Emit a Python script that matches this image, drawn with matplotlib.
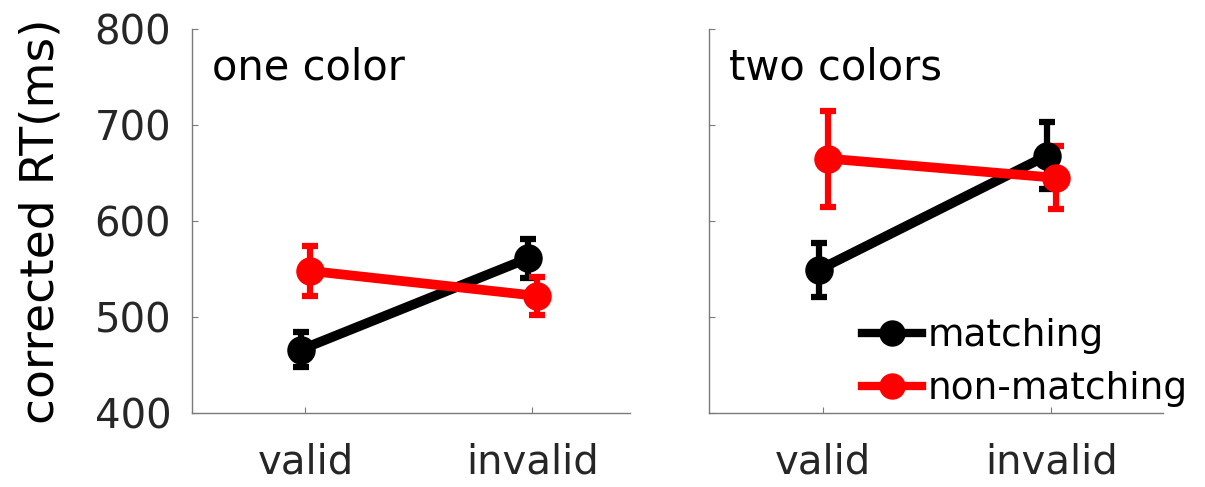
import matplotlib.pyplot as plt
from matplotlib.lines import Line2D

plt.rcParams['font.family'] = ['DejaVu Sans']

conditions = ["valid", "invalid"]
panels = ["one color", "two colors"]
series = ["matching", "non-matching"]

# mean RT and error per panel
one_matching = [466, 561]
one_matching_err = [18, 20]
one_nonmatching = [548, 522]
one_nonmatching_err = [26, 20]

two_matching = [549, 668]
two_matching_err = [28, 35]
two_nonmatching = [665, 645]
two_nonmatching_err = [50, 33]

yticks = [400, 500, 600, 700, 800]

colors = {"matching": "black", "non-matching": "#ff0000"}
offsets = {"matching": -0.02, "non-matching": 0.02}

fig = plt.figure(figsize=(12.05, 4.87), dpi=100)
ax1 = fig.add_axes([192 / 1205, 74 / 487, 438 / 1205, 384 / 487])
ax2 = fig.add_axes([709 / 1205, 74 / 487, 454 / 1205, 384 / 487])

data = [
    {"matching": (one_matching, one_matching_err),
     "non-matching": (one_nonmatching, one_nonmatching_err)},
    {"matching": (two_matching, two_matching_err),
     "non-matching": (two_nonmatching, two_nonmatching_err)},
]

for ax, title, d, xmax in zip([ax1, ax2], panels, data, [2.43, 2.49]):
    for s in series:
        vals, errs = d[s]
        xs = [i + 1 + offsets[s] for i in range(len(conditions))]
        ax.errorbar(xs, vals, yerr=errs, color=colors[s], marker="o",
                    markersize=19.5, linewidth=7, elinewidth=4.5,
                    capsize=6, capthick=4.5, label=s)
    ax.set_xlim(0.5, xmax)
    ax.set_ylim(400, 800)
    ax.set_xticks([1, 2])
    ax.set_yticks(yticks)
    ax.spines["top"].set_visible(False)
    ax.spines["right"].set_visible(False)
    for sp in ["left", "bottom"]:
        ax.spines[sp].set_color("#7a7a7a")
        ax.spines[sp].set_linewidth(1.0)
    ax.tick_params(direction="in", length=4, width=0.8, color="#7a7a7a",
                   labelcolor="#262626", labelsize=29)
    ax.tick_params(axis="x", pad=21)
    ax.tick_params(axis="y", pad=15)
    ax.text(0.045, 0.955, title, transform=ax.transAxes, fontsize=30,
            va="top", ha="left", color="black")

ax1.set_xticklabels(conditions)
ax2.set_xticklabels(conditions)
ax1.set_yticklabels([str(v) for v in yticks])
ax2.set_yticklabels([])
ax1.set_ylabel("corrected RT(ms)", fontsize=34, color="black", labelpad=22)

handles = [Line2D([], [], color=colors[s], marker="o", markersize=18,
                  linewidth=6) for s in series]
ax2.legend(handles, series, loc="lower left",
           bbox_to_anchor=(862 / 1205, 80 / 487),
           bbox_transform=fig.transFigure, frameon=False, fontsize=27,
           handlelength=1.6, handletextpad=0.15, labelspacing=0.45,
           borderpad=0, borderaxespad=0)

fig.savefig("out.png", dpi=100)
